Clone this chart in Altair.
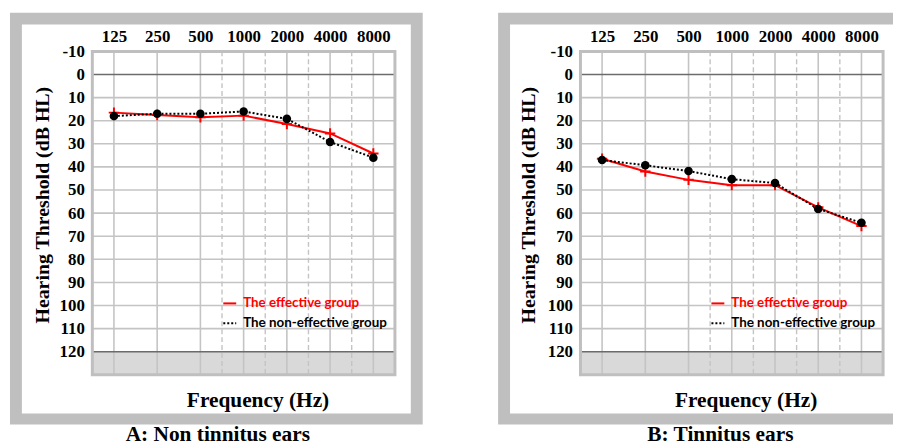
import altair as alt
import pandas as pd

# ---------------- data ----------------
freqs = [125, 250, 500, 1000, 2000, 4000, 8000]
half_octaves = [707, 1414, 2828, 5657]
db_ticks = [-10, 0, 10, 20, 30, 40, 50, 60, 70, 80, 90, 100, 110, 120]
light_grid = [10, 20, 30, 40, 50, 60, 70, 80, 90, 100, 110]
dark_grid = [0, 120]
band = [120, 130]

a_effective = [16.5, 17.5, 18.5, 17.8, 21.4, 25.5, 34.2]
a_noneffective = [18.0, 17.0, 17.0, 16.0, 19.2, 29.2, 36.0]
b_effective = [36.5, 42.0, 45.6, 47.9, 47.9, 57.5, 65.6]
b_noneffective = [37.0, 39.3, 41.8, 45.3, 47.0, 58.2, 64.2]

series_names = ["The effective group", "The non-effective group"]
captions = ["A: Non tinnitus ears", "B: Tinnitus ears"]
x_title = "Frequency (Hz)"
y_title = "Hearing Threshold (dB HL)"

# ---------------- style ----------------
W, H = 305, 326
X_DOMAIN = [88.4, 11314]
Y_DOMAIN = [-10, 130]
SERIF = "Liberation Serif"
FRAME = "#bfbfbf"
GRID = "#c4c4c4"


def xenc(field="freq"):
    return alt.X(
        f"{field}:Q",
        scale=alt.Scale(type="log", domain=X_DOMAIN),
        title=None,
        axis=alt.Axis(
            orient="top", values=freqs, labelExpr="'' + datum.value",
            labelFont=SERIF, labelFontWeight="bold", labelFontSize=17,
            labelColor="black", labelPadding=6, domain=False, ticks=False,
            grid=False, zindex=1, labelOverlap=False, labelFlush=False,
        ),
    )


def yenc(field="db"):
    return alt.Y(
        f"{field}:Q",
        scale=alt.Scale(domain=Y_DOMAIN, reverse=True, nice=False, zero=False),
        title=None,
        axis=alt.Axis(
            values=db_ticks, labelExpr="'' + datum.value", labelFont=SERIF,
            labelFontWeight="bold", labelFontSize=17, labelColor="black",
            labelPadding=8, domain=False, ticks=False, grid=False, zindex=1,
            labelFlush=False,
        ),
    )


one = pd.DataFrame({"k": [0]})


def panel(eff, non, caption, right_ext, inner_right_ext, cap_x, ytitle_x):
    frame_outer = alt.Chart(one).mark_rect(color=FRAME).encode(
        x=alt.value(-83), x2=alt.value(W + right_ext),
        y=alt.value(-39), y2=alt.value(H + 50))
    frame_inner = alt.Chart(one).mark_rect(color="white").encode(
        x=alt.value(-71), x2=alt.value(W + inner_right_ext),
        y=alt.value(-27), y2=alt.value(H + 39))
    band_df = pd.DataFrame({"db": [band[0]], "db2": [band[1]]})
    band_rect = alt.Chart(band_df).mark_rect(color="#d9d9d9").encode(
        x=alt.value(0), x2=alt.value(W), y=yenc(), y2="db2:Q")
    hgrid = alt.Chart(pd.DataFrame({"db": light_grid})).mark_rule(
        color=GRID, strokeWidth=1.6).encode(y=yenc())
    vgrid = alt.Chart(pd.DataFrame({"freq": freqs})).mark_rule(
        color=GRID, strokeWidth=1.6).encode(x=xenc())
    vdash = alt.Chart(pd.DataFrame({"freq": half_octaves})).mark_rule(
        color=GRID, strokeWidth=1.4, strokeDash=[5, 3]).encode(x=xenc())
    dgrid = alt.Chart(pd.DataFrame({"db": dark_grid})).mark_rule(
        color="#6b6b6b", strokeWidth=1.4).encode(y=yenc())
    border = alt.Chart(one).mark_rect(
        fill="transparent", stroke=FRAME, strokeWidth=3).encode(
        x=alt.value(0), x2=alt.value(W), y=alt.value(0), y2=alt.value(H))

    eff_df = pd.DataFrame({"freq": freqs, "db": eff})
    non_df = pd.DataFrame({"freq": freqs, "db": non})
    eff_line = alt.Chart(eff_df).mark_line(color="#ff0000", strokeWidth=2).encode(
        x=xenc(), y=yenc())
    eff_pts = alt.Chart(eff_df).mark_point(
        shape="M-1,0H1M0,-1V1", filled=False, stroke="#ff0000",
        strokeWidth=2, size=110, opacity=1).encode(x=xenc(), y=yenc())
    non_line = alt.Chart(non_df).mark_line(
        color="black", strokeWidth=2, strokeDash=[2, 2]).encode(x=xenc(), y=yenc())
    non_pts = alt.Chart(non_df).mark_circle(
        color="black", size=75, opacity=1).encode(x=xenc(), y=yenc())

    leg1_seg = alt.Chart(one).mark_rule(color="#ff0000", strokeWidth=2).encode(
        x=alt.value(132), x2=alt.value(145), y=alt.value(254))
    leg2_seg = alt.Chart(one).mark_rule(
        color="black", strokeWidth=2, strokeDash=[2, 2]).encode(
        x=alt.value(132), x2=alt.value(145), y=alt.value(274))
    leg1_txt = alt.Chart(pd.DataFrame({"t": [series_names[0]]})).mark_text(
        align="left", baseline="middle", font="Lato", fontWeight="bold",
        fontSize=13.5, color="#ff0000").encode(
        text="t:N", x=alt.value(152), y=alt.value(254))
    leg2_txt = alt.Chart(pd.DataFrame({"t": [series_names[1]]})).mark_text(
        align="left", baseline="middle", font="Lato", fontWeight="bold",
        fontSize=13.5, color="black").encode(
        text="t:N", x=alt.value(152), y=alt.value(274))

    ytitle = alt.Chart(pd.DataFrame({"t": [y_title]})).mark_text(
        angle=270, align="center", baseline="middle", font=SERIF,
        fontWeight="bold", fontSize=20, color="black").encode(
        text="t:N", x=alt.value(ytitle_x), y=alt.value(155))
    xtitle = alt.Chart(pd.DataFrame({"t": [x_title]})).mark_text(
        align="center", baseline="middle", font=SERIF,
        fontWeight="bold", fontSize=21.5, color="black").encode(
        text="t:N", x=alt.value(167), y=alt.value(H + 26))
    cap = alt.Chart(pd.DataFrame({"t": [caption]})).mark_text(
        align="center", baseline="middle", font=SERIF,
        fontWeight="bold", fontSize=21.5, color="black").encode(
        text="t:N", x=alt.value(cap_x), y=alt.value(H + 61))

    return alt.layer(
        frame_outer, frame_inner, band_rect, hgrid, vgrid, vdash, dgrid,
        border, eff_line, eff_pts, non_line, non_pts,
        leg1_seg, leg2_seg, leg1_txt, leg2_txt, ytitle, xtitle, cap,
    ).properties(width=W, height=H)


left = panel(a_effective, a_noneffective, captions[0], 28, 16, 126.5, -50)
right = panel(b_effective, b_noneffective, captions[1], 10, 10, 141, -52)

chart = alt.hconcat(left, right, spacing=76).properties(
    padding={"left": 2, "top": 3, "right": 0, "bottom": 0},
    background="white",
).configure_view(strokeWidth=0)

chart.save("out.html", embed_options={"renderer": "svg", "actions": False})
